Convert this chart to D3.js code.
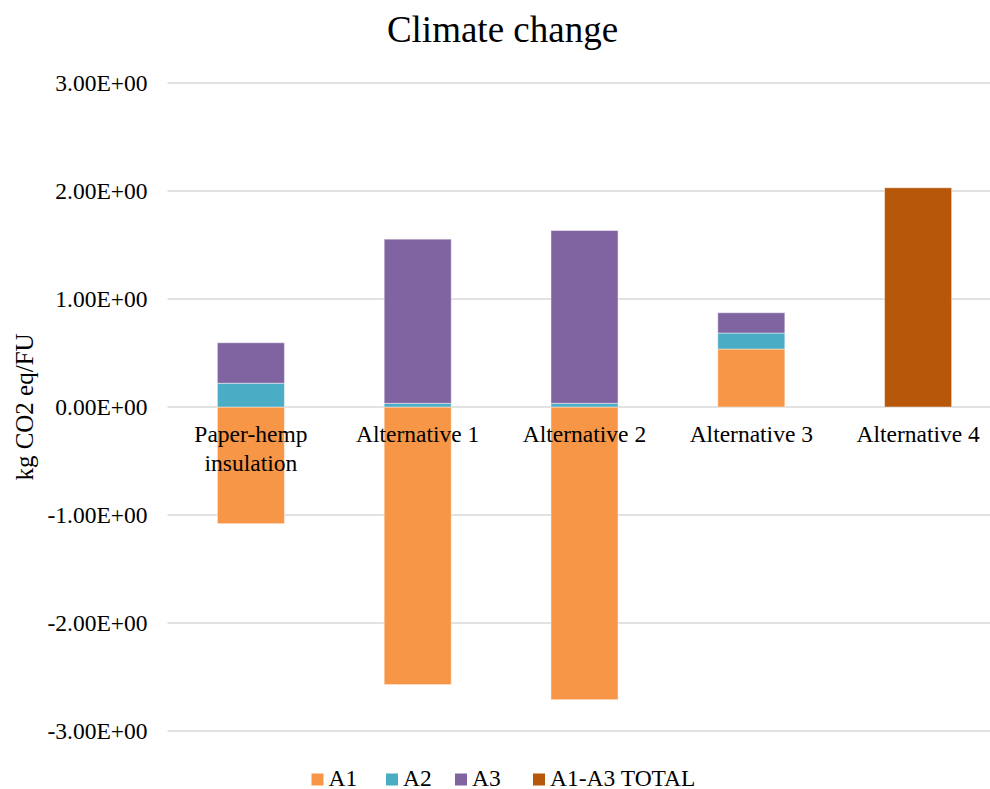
<!DOCTYPE html>
<html>
<head>
<meta charset="utf-8">
<script src="https://cdn.jsdelivr.net/npm/d3@7"></script>
<style>
  html, body { margin: 0; padding: 0; background: #fff; }
  svg { display: block; font-family: "Liberation Serif", "Times New Roman", serif; }
</style>
</head>
<body>
<svg id="chart" width="990" height="789"></svg>
<script>
// Climate change impact per functional unit, split by life-cycle module
const categories = [["Paper-hemp", "insulation"], ["Alternative 1"], ["Alternative 2"], ["Alternative 3"], ["Alternative 4"]];
const seriesNames = ["A1", "A2", "A3", "A1-A3 TOTAL"];
const a1 = [-1.08, -2.57, -2.71, 0.537, 0];
const a2 = [0.22, 0.034, 0.034, 0.148, 0];
const a3 = [0.375, 1.52, 1.60, 0.188, 0];
const total = [0, 0, 0, 0, 2.03];
const colors = ["#F79646", "#4BACC6", "#8064A2", "#B6570A"];
const tickValues = [3, 2, 1, 0, -1, -2, -3];
const tickLabels = ["3.00E+00", "2.00E+00", "1.00E+00", "0.00E+00", "-1.00E+00", "-2.00E+00", "-3.00E+00"];
const titleText = "Climate change";
const yTitle = "kg CO2 eq/FU";

const svg = d3.select("#chart");
const plot = { left: 167.5, right: 1001.5, top: 83, bottom: 731 };

const rows = categories.map((c, i) => ({
  key: i, "A1": a1[i], "A2": a2[i], "A3": a3[i], "A1-A3 TOTAL": total[i]
}));

const x = d3.scaleBand()
  .domain(d3.range(categories.length))
  .range([plot.left, plot.right])
  .paddingInner(0.598)
  .paddingOuter(0.299);

const y = d3.scaleLinear().domain([-3, 3]).range([plot.bottom, plot.top]);

// gridlines
svg.append("g")
  .selectAll("line")
  .data(tickValues)
  .join("line")
  .attr("x1", plot.left)
  .attr("x2", plot.right)
  .attr("y1", d => y(d))
  .attr("y2", d => y(d))
  .attr("stroke", "#D9D9D9")
  .attr("stroke-width", 1.5);

// y axis labels
const yAxis = d3.axisLeft(y)
  .tickValues(tickValues)
  .tickFormat((d, i) => tickLabels[i])
  .tickSize(0)
  .tickPadding(20);
const yg = svg.append("g").attr("transform", `translate(${plot.left},0)`).call(yAxis);
yg.attr("font-family", null).attr("font-size", null);
yg.select(".domain").remove();
yg.selectAll("text")
  .attr("font-size", 23.5)
  .attr("fill", "#000");

// stacked bars, positive values above zero and negatives below
const stack = d3.stack().keys(seriesNames).offset(d3.stackOffsetDiverging);
const layers = stack(rows);

svg.append("g")
  .selectAll("g")
  .data(layers)
  .join("g")
  .attr("fill", (d, i) => colors[i])
  .selectAll("rect")
  .data(d => d.filter(p => p[1] !== p[0]))
  .join("rect")
  .attr("x", d => x(d.data.key))
  .attr("width", x.bandwidth())
  .attr("y", d => y(Math.max(d[0], d[1])))
  .attr("height", d => Math.abs(y(d[0]) - y(d[1])))
  .attr("stroke", "rgba(255,255,255,0.45)")
  .attr("stroke-width", 1);

// category labels just under the zero line
const catG = svg.append("g")
  .attr("font-size", 23.5)
  .attr("text-anchor", "middle")
  .attr("fill", "#000");
categories.forEach((lines, i) => {
  const t = catG.append("text")
    .attr("x", x(i) + x.bandwidth() / 2)
    .attr("y", y(0) + 35);
  lines.forEach((ln, j) => {
    t.append("tspan")
      .attr("x", x(i) + x.bandwidth() / 2)
      .attr("dy", j === 0 ? 0 : 28.5)
      .text(ln);
  });
});

// title
svg.append("text")
  .attr("x", 502.5)
  .attr("y", 42)
  .attr("text-anchor", "middle")
  .attr("font-size", 37)
  .attr("fill", "#000")
  .text(titleText);

// y axis title
svg.append("text")
  .attr("transform", `translate(33,${y(0)}) rotate(-90)`)
  .attr("text-anchor", "middle")
  .attr("font-size", 25)
  .attr("fill", "#000")
  .text(yTitle);

// legend
const legendX = [311.5, 386, 455, 533];
const lg = svg.append("g");
seriesNames.forEach((name, i) => {
  lg.append("rect")
    .attr("x", legendX[i])
    .attr("y", 773.5)
    .attr("width", 12)
    .attr("height", 12)
    .attr("fill", colors[i]);
  lg.append("text")
    .attr("x", legendX[i] + 17)
    .attr("y", 785.5)
    .attr("font-size", 23.5)
    .attr("fill", "#000")
    .text(name);
});
</script>
</body>
</html>
